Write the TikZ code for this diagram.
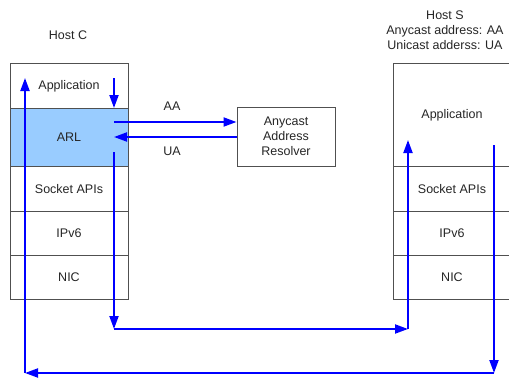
\documentclass[tikz,border=0pt]{standalone}
\usepackage{fontspec}
\setmainfont{Liberation Sans}
\usetikzlibrary{arrows.meta}
\definecolor{arlblue}{RGB}{153,204,255}
\definecolor{boxgray}{RGB}{80,80,80}
\begin{document}
\begin{tikzpicture}[x=1pt,y=-1pt,
  every node/.style={font=\fontsize{12.5}{15}\selectfont, text=black!85},
  layer/.style={draw=boxgray, line width=1pt, inner sep=0pt, minimum width=118pt, anchor=north, align=center},
  resbox/.style={draw=boxgray, line width=1pt, inner sep=0pt, minimum width=98pt, minimum height=59pt, align=center},
  lbl/.style={inner sep=0pt, align=center},
  arr/.style={draw=blue, line width=2pt, -{Triangle[length=13pt,width=9pt]}}]
\useasboundingbox (0,0) rectangle (509,378);
\clip (0,0) rectangle (509,378);
\fill[white] (0,0) rectangle (509,378);
% Host C
\node[lbl] (hc) at (68,35) {Host C};
\node[layer, minimum height=45pt] (capp) at (69,63) {Application};
\node[layer, minimum height=58pt, fill=arlblue] (carl) at (69,108) {ARL};
\node[layer, minimum height=45pt] (csock) at (69,166) {Socket APIs};
\node[layer, minimum height=44pt] (cip) at (69,211) {IPv6};
\node[layer, minimum height=44pt] (cnic) at (69,255) {NIC};
% Host S
\node[lbl] (hs) at (445,30) {Host S\\Anycast address: AA\\Unicast adderss: UA};
\node[layer, minimum height=103pt] (sapp) at (452,63) {Application};
\node[layer, minimum height=45pt] (ssock) at (452,166) {Socket APIs};
\node[layer, minimum height=44pt] (sip) at (452,211) {IPv6};
\node[layer, minimum height=44pt] (snic) at (452,255) {NIC};
% Resolver
\node[resbox] (res) at (286,136.5) {Anycast\\Address\\Resolver};
% labels
\node[lbl] (aa) at (172,106) {AA};
\node[lbl] (ua) at (172,151) {UA};
% coordinates
\coordinate (a1) at (114,78);
\coordinate (a2) at (114,152);
\coordinate (a3) at (114,329);
\coordinate (a4) at (408,329);
\coordinate (a5) at (408,140);
\coordinate (b1) at (494,145);
\coordinate (b2) at (494,373);
\coordinate (b3) at (25,373);
\coordinate (b4) at (25,78);
% arrows
\draw[arr] (a1) -- (a1 |- carl.north);
\draw[arr] (114,122) -- (res.west |- 0,122);
\draw[arr] (res.west |- 0,137) -- (114,137);
\draw[arr] (a2) -- (a3);
\draw[arr] (a3) -- (a4);
\draw[arr] (a4) -- (a5);
\draw[arr] (b1) -- (b2);
\draw[arr] (b2) -- (b3);
\draw[arr] (b3) -- (b4);
\end{tikzpicture}
\end{document}
